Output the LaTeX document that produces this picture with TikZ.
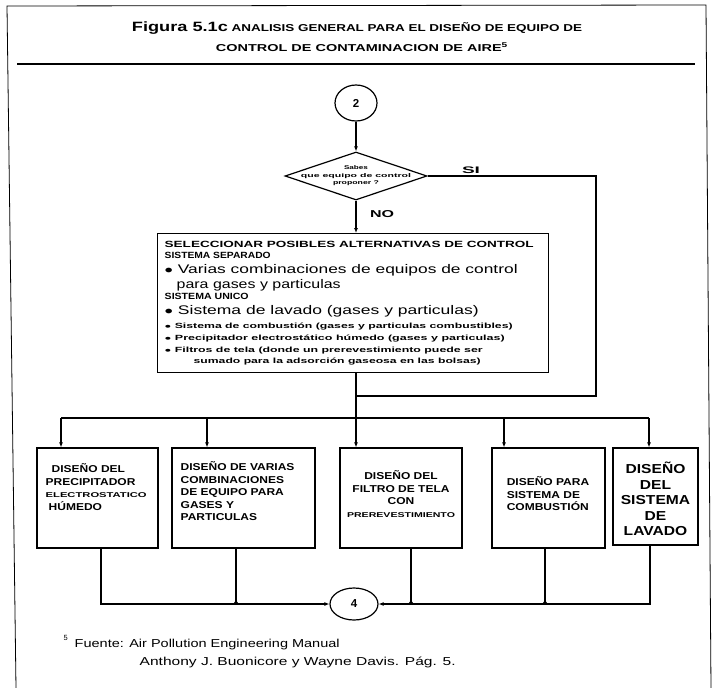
\documentclass[tikz,border=0pt]{standalone}
\usepackage{fontspec}
\usepackage{graphicx}
\setmainfont{Liberation Sans}
\newfontfamily\wide[FakeStretch=1.2]{Liberation Sans}
\newcommand\wfit[2]{\resizebox{#1}{\height}{#2}}
\usetikzlibrary{shapes.geometric,arrows.meta}
\begin{document}
\begin{tikzpicture}[x=1pt,y=-1pt,
  line width=1.4pt,
  arr/.style={-{Latex[length=5pt,width=4pt]}},
  dot/.style={-{Circle[length=3pt]}},
  conn/.style={draw,ellipse,inner sep=0pt,line width=1.2pt,font=\bfseries\fontsize{11.5}{12}\selectfont},
  dbox/.style={draw,rectangle,inner sep=0pt,line width=1.2pt},
  btxt/.style={inner sep=0pt,font=\wide\bfseries\fontsize{10}{12.5}\selectfont},
  ltxt/.style={inner sep=0pt,anchor=base west},
  capl/.style={ltxt,font=\bfseries\fontsize{9}{10}\selectfont},
  bigl/.style={ltxt,font=\fontsize{12.5}{14}\selectfont},
  smll/.style={ltxt,font=\bfseries\fontsize{7.5}{9}\selectfont},
]
\useasboundingbox (0,0) rectangle (713,688);
% frame
\draw[line width=0.8pt] (16,688) -- (7,6) -- (706,5) -- (711,688);
% title
\node[inner sep=0pt,font=\bfseries\fontsize{10}{11}\selectfont] (t1) at (357,28)
  {\wfit{450pt}{{\fontsize{13.5}{14}\selectfont Figura 5.1c} ANALISIS GENERAL PARA EL DISE\~NO DE EQUIPO DE}};
\node[inner sep=0pt,font=\bfseries\fontsize{10}{11}\selectfont] (t2) at (362,47)
  {\wfit{292pt}{CONTROL DE CONTAMINACION DE AIRE\textsuperscript{5}}};
\draw[line width=1.8pt] (17,64) -- (695,64);

% top connector and decision
\node[conn,minimum width=42pt,minimum height=36pt] (c2) at (356,103) {2};
\node[draw,diamond,minimum width=142pt,minimum height=48pt,inner sep=0pt,line width=1.2pt] (q) at (356,176) {};
\node[inner sep=0pt,align=center,font=\bfseries\fontsize{5.5}{7.5}\selectfont] (qt) at (q.center)
  {\wfit{24pt}{Sabes}\\\wfit{110pt}{que equipo de control}\\\wfit{46pt}{proponer ?}};
\node[inner sep=0pt,font=\bfseries\fontsize{9.5}{11}\selectfont] (si) at (471,170) {\wfit{18pt}{SI}};
\node[inner sep=0pt,font=\bfseries\fontsize{10}{11}\selectfont] (no) at (382,214) {\wfit{24pt}{NO}};

% big box
\node[dbox,minimum width=391pt,minimum height=139pt,anchor=north west] (big) at (157,233) {};
\node[capl] (l1) at (164,247) {\wfit{369pt}{SELECCIONAR POSIBLES ALTERNATIVAS DE CONTROL}};
\node[capl] (l2) at (164,258) {\wfit{106pt}{SISTEMA SEPARADO}};
\node[bigl] (l3) at (164,273) {\wfit{353pt}{$\bullet$ Varias combinaciones de equipos de control}};
\node[bigl] (l4) at (176,288) {\wfit{164pt}{para gases y particulas}};
\node[capl] (l5) at (164,299) {\wfit{84pt}{SISTEMA UNICO}};
\node[bigl] (l6) at (164,314) {\wfit{314pt}{$\bullet$ Sistema de lavado (gases y particulas)}};
\node[smll] (l7) at (164,328) {\wfit{348pt}{$\bullet$ Sistema de combusti\'on (gases y particulas combustibles)}};
\node[smll] (l8) at (164,340) {\wfit{340pt}{$\bullet$ Precipitador electrost\'atico h\'umedo (gases y particulas)}};
\node[smll] (l9) at (164,352) {\wfit{318pt}{$\bullet$ Filtros de tela (donde un prerevestimiento puede ser}};
\node[smll] (l10) at (193,363) {\wfit{287pt}{sumado para la adsorci\'on gaseosa en las bolsas)}};

% bottom boxes
\node[dbox,minimum width=121pt,minimum height=100pt] (b1) at (97.5,498) {};
\node[dbox,minimum width=143pt,minimum height=100pt] (b2) at (243.5,498) {};
\node[dbox,minimum width=122pt,minimum height=100pt] (b3) at (401,498) {};
\node[dbox,minimum width=113pt,minimum height=100pt] (b4) at (548.5,498) {};
\node[dbox,minimum width=85pt,minimum height=97pt] (b5) at (655.5,496.5) {};

\node[btxt,align=left,anchor=north west] (b1t) at (45,463)
  {\hspace*{6pt}DISE\~NO DEL\\PRECIPITADOR\\\wfit{101pt}{\fontsize{7}{12.5}\selectfont ELECTROSTATICO}\\\hspace*{3pt}H\'UMEDO};
\node[btxt,align=left,anchor=north west] (b2t) at (180,461)
  {DISE\~NO DE VARIAS\\COMBINACIONES\\DE EQUIPO PARA\\GASES Y\\PARTICULAS};
\node[btxt,align=center] (b3t) at (401,494)
  {DISE\~NO DEL\\FILTRO DE TELA\\CON\\\wfit{108pt}{\fontsize{7}{12.5}\selectfont PREREVESTIMIENTO}};
\node[btxt,align=left] (b4t) at (548,494)
  {DISE\~NO PARA\\SISTEMA DE\\COMBUSTI\'ON};
\node[inner sep=0pt,align=center,font=\wide\bfseries\fontsize{13}{15.5}\selectfont] (b5t) at (655.5,499)
  {DISE\~NO\\DEL\\SISTEMA\\DE\\LAVADO};

% bottom connector
\node[conn,minimum width=48pt,minimum height=32pt] (c4) at (354,604) {4};

% connections
\coordinate (sr) at (596,176);
\coordinate (sb) at (596,396);
\coordinate (sj) at (356,396);
\coordinate (hj) at (356,418);
\coordinate (hl) at (61,418);
\coordinate (h2) at (207,418);
\coordinate (h4) at (504,418);
\coordinate (hr) at (649,418);
\draw[arr] (c2) -- (q);
\draw (q.east) -- (sr) -- (sb) -- (sj);
\draw[arr] (q.south) -- (q.south |- big.north);
\draw (big.south -| sj) -- (hj);
\draw (hl) -- (hr);
\draw[arr] (hl) -- (hl |- b1.north);
\draw[arr] (h2) -- (h2 |- b2.north);
\draw[arr] (hj) -- (hj |- b3.north);
\draw[arr] (h4) -- (h4 |- b4.north);
\draw[arr] (hr) -- (hr |- b5.north);

\coordinate (fl) at (101,604);
\coordinate (f2) at (236,604);
\coordinate (f3) at (411,604);
\coordinate (f4) at (545,604);
\coordinate (fr) at (650,604);
\draw[arr] (b1.south -| fl) -- (fl) -- (c4.west);
\draw[arr] (b5.south -| fr) -- (fr) -- (c4.east);
\draw[dot] (b2.south -| f2) -- (f2);
\draw[dot] (b3.south -| f3) -- (f3);
\draw[dot] (b4.south -| f4) -- (f4);

% footnote
\node[inner sep=0pt,anchor=base west,font=\fontsize{7.5}{8}\selectfont] (fn5) at (63,640) {5};
\node[inner sep=0pt,anchor=base west,font=\fontsize{11.5}{13}\selectfont] (fn1) at (74,647)
  {\wfit{265pt}{Fuente: Air Pollution Engineering Manual}};
\node[inner sep=0pt,anchor=base west,font=\fontsize{11.5}{13}\selectfont] (fn2) at (139,665)
  {\wfit{316pt}{Anthony J. Buonicore y Wayne Davis. P\'ag. 5.}};
\end{tikzpicture}
\end{document}
